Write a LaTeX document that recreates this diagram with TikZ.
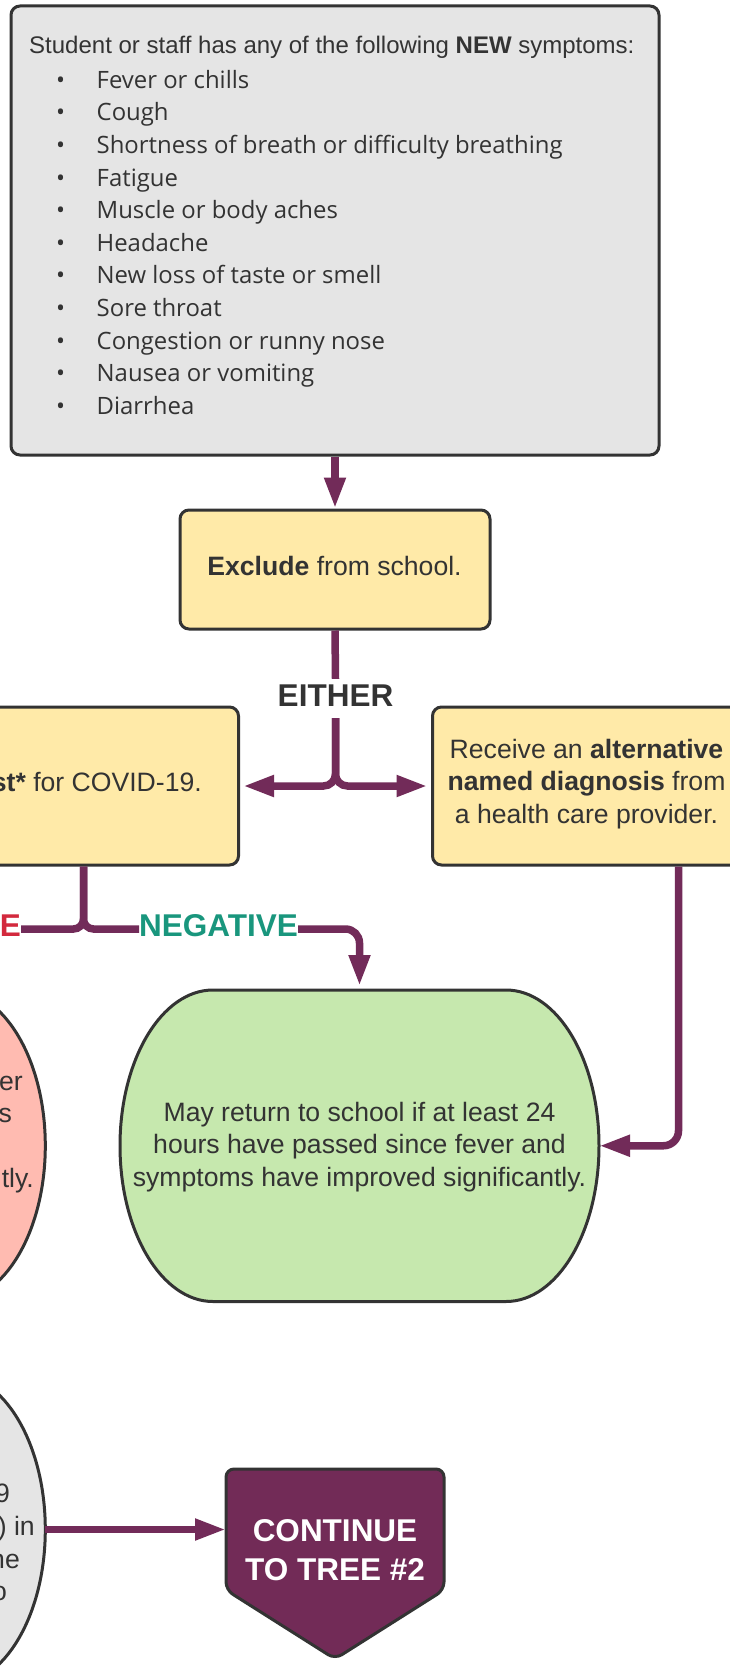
\documentclass[tikz,border=0pt]{standalone}
\usepackage{fontspec}
\setmainfont{Liberation Sans}
\newfontfamily\osans{Open Sans}
\usetikzlibrary{arrows.meta,calc}
\definecolor{connc}{HTML}{722B59}
\definecolor{bord}{HTML}{333333}
\definecolor{grayfill}{HTML}{E5E5E5}
\definecolor{yel}{HTML}{FFEAA8}
\definecolor{grn}{HTML}{C6E8AE}
\definecolor{pnk}{HTML}{FFBBB1}
\definecolor{purp}{HTML}{722B57}
\definecolor{negc}{HTML}{19967D}
\definecolor{posc}{HTML}{D3293D}
\definecolor{txt}{HTML}{333333}
\tikzset{
  box/.style={draw=bord, line width=3pt, rounded corners=9pt, inner sep=0pt},
  ghost/.style={inner sep=0pt, outer sep=0pt},
  term/.style={draw=bord, line width=3pt},
  wire/.style={draw=connc, line width=7.5pt},
  link/.style={wire, -{Triangle[length=31pt,width=20pt]}},
  body/.style={inner sep=0pt, text=txt, font=\fontsize{26.6}{32}\selectfont},
  item/.style={inner sep=0pt, text=txt, font=\osans\fontsize{23.9}{28}\selectfont},
  lbl/.style={inner sep=0pt, font=\bfseries\fontsize{31.5}{36}\selectfont, text height=15pt, text depth=0pt},
  wlbl/.style={inner sep=0pt, text=white, font=\bfseries\fontsize{31.5}{36}\selectfont}
}
\begin{document}
\begin{tikzpicture}[x=1pt,y=-1pt]
\useasboundingbox (0,0) rectangle (730,1680);
\fill[white] (0,0) rectangle (730,1680);

% boxes
\node[box, fill=grayfill, minimum width=648pt, minimum height=449pt] (sym) at (335,230.5) {};
\node[box, fill=yel, minimum width=310pt, minimum height=119pt] (excl) at (335,569.5) {};
\node[box, fill=yel, minimum width=310pt, minimum height=158pt] (test) at (83.5,786) {};
\node[box, fill=yel, minimum width=310pt, minimum height=158pt] (alt) at (587.5,786) {};

% terminal shapes (frames)
\node[ghost, minimum width=479pt, minimum height=311.5pt] (ret) at (359.5,1145.75) {};
\node[ghost, minimum width=479pt, minimum height=311.5pt] (posel) at (-194.2,1145.75) {};
\node[ghost, minimum width=479pt, minimum height=311.5pt] (grayel) at (-194.2,1529.5) {};
\node[ghost, minimum width=218pt, minimum height=121pt] (cont) at (335,1529.5) {};

\draw[term, fill=grn] ($(ret.north west)+(93,0)$) -- ($(ret.north east)+(-93,0)$)
  arc[start angle=90, end angle=-90, x radius=93pt, y radius=155.75pt]
  -- ($(ret.south west)+(93,0)$)
  arc[start angle=270, end angle=90, x radius=93pt, y radius=155.75pt] -- cycle;
\draw[term, fill=pnk] ($(posel.north west)+(93,0)$) -- ($(posel.north east)+(-93,0)$)
  arc[start angle=90, end angle=-90, x radius=93pt, y radius=155.75pt]
  -- ($(posel.south west)+(93,0)$)
  arc[start angle=270, end angle=90, x radius=93pt, y radius=155.75pt] -- cycle;
\draw[term, fill=grayfill] ($(grayel.north west)+(93,0)$) -- ($(grayel.north east)+(-93,0)$)
  arc[start angle=90, end angle=-90, x radius=93pt, y radius=155.75pt]
  -- ($(grayel.south west)+(93,0)$)
  arc[start angle=270, end angle=90, x radius=93pt, y radius=155.75pt] -- cycle;
\draw[term, fill=purp, rounded corners=8pt] (cont.north west) -- (cont.north east) -- (cont.south east)
  -- ($(cont.south)+(0,69)$) -- (cont.south west) -- cycle;

% top box text
\node[inner sep=0pt, text=txt, font=\fontsize{24}{28}\selectfont, anchor=base west] (title) at (29,53.3)
  {Student or staff has any of the following \textbf{NEW} symptoms:};
\foreach \sym [count=\i] in {Fever or chills, Cough, Shortness of breath or difficulty breathing, Fatigue,
  Muscle or body aches, Headache, New loss of taste or smell, Sore throat, Congestion or runny nose,
  Nausea or vomiting, Diarrhea} {
  \node[item, anchor=base west] (item\i) at (96.5,{88.3+32.6*(\i-1)}) {\sym};
  \node[item, anchor=base] (bul\i) at (60.5,{88.3+32.6*(\i-1)}) {•};
}

% box texts
\node[body, anchor=base] (ex1) at (334.5,575) {\textbf{Exclude} from school.};
\node[body, anchor=base east] (te1) at (202,791) {\textbf{st*} for COVID-19.};
\node[body, anchor=base] (al1) at (586.5,758) {Receive an \textbf{alternative}};
\node[body, anchor=base] (al2) at (586.5,790.5) {\textbf{named diagnosis} from};
\node[body, anchor=base] (al3) at (586.5,823) {a health care provider.};
\node[body, anchor=base] (re1) at (359.5,1121) {May return to school if at least 24};
\node[body, anchor=base] (re2) at (359.5,1153.5) {hours have passed since fever and};
\node[body, anchor=base] (re3) at (359.5,1186) {symptoms have improved significantly.};
\node[body, anchor=base east] (pe1) at (23,1090) {er};
\node[body, anchor=base east] (pe2) at (12,1122) {s};
\node[body, anchor=base east] (pe4) at (34,1187) {tly.};
\node[body, anchor=base east] (ge1) at (10,1502) {9};
\node[body, anchor=base east] (ge2) at (35,1535) {) in};
\node[body, anchor=base east] (ge3) at (20,1568) {ne};
\node[body, anchor=base east] (ge4) at (7,1600) {o};
\node[wlbl, anchor=base] (co1) at (335,1541) {CONTINUE};
\node[wlbl, anchor=base] (co2) at (335,1580) {TO TREE \#2};

% labels
\node[inner sep=0pt, text=txt, font=\bfseries\fontsize{31.5}{36}\selectfont, text height=27pt, text depth=12pt, anchor=base] (either) at (335.5,706) {EITHER};
\node[lbl, text=negc, anchor=base west] (neg) at (139,936.5) {NEGATIVE};
\node[lbl, text=posc, anchor=base east] (pos) at (21,936.5) {E};

% connectors
\draw[link] (sym.south) -- (excl.north);
\draw[wire] (excl.south) -- (either.north);
\draw[link, rounded corners=12pt, shorten >=3pt] (either.south) |- (test.east);
\draw[link, rounded corners=12pt, shorten >=3.5pt] (either.south) |- (alt.west);
\draw[wire, rounded corners=10pt] (test.south) |- (pos.east);
\draw[wire, rounded corners=10pt] (test.south) |- (neg.west);
\draw[link, rounded corners=14pt, shorten >=4pt] (neg.east) -| (ret.north);
\draw[link, rounded corners=15pt] ([xshift=-65.5pt]alt.south east) |- (ret.east);
\draw[link] (grayel.east) -- (cont.west);
\end{tikzpicture}
\end{document}
